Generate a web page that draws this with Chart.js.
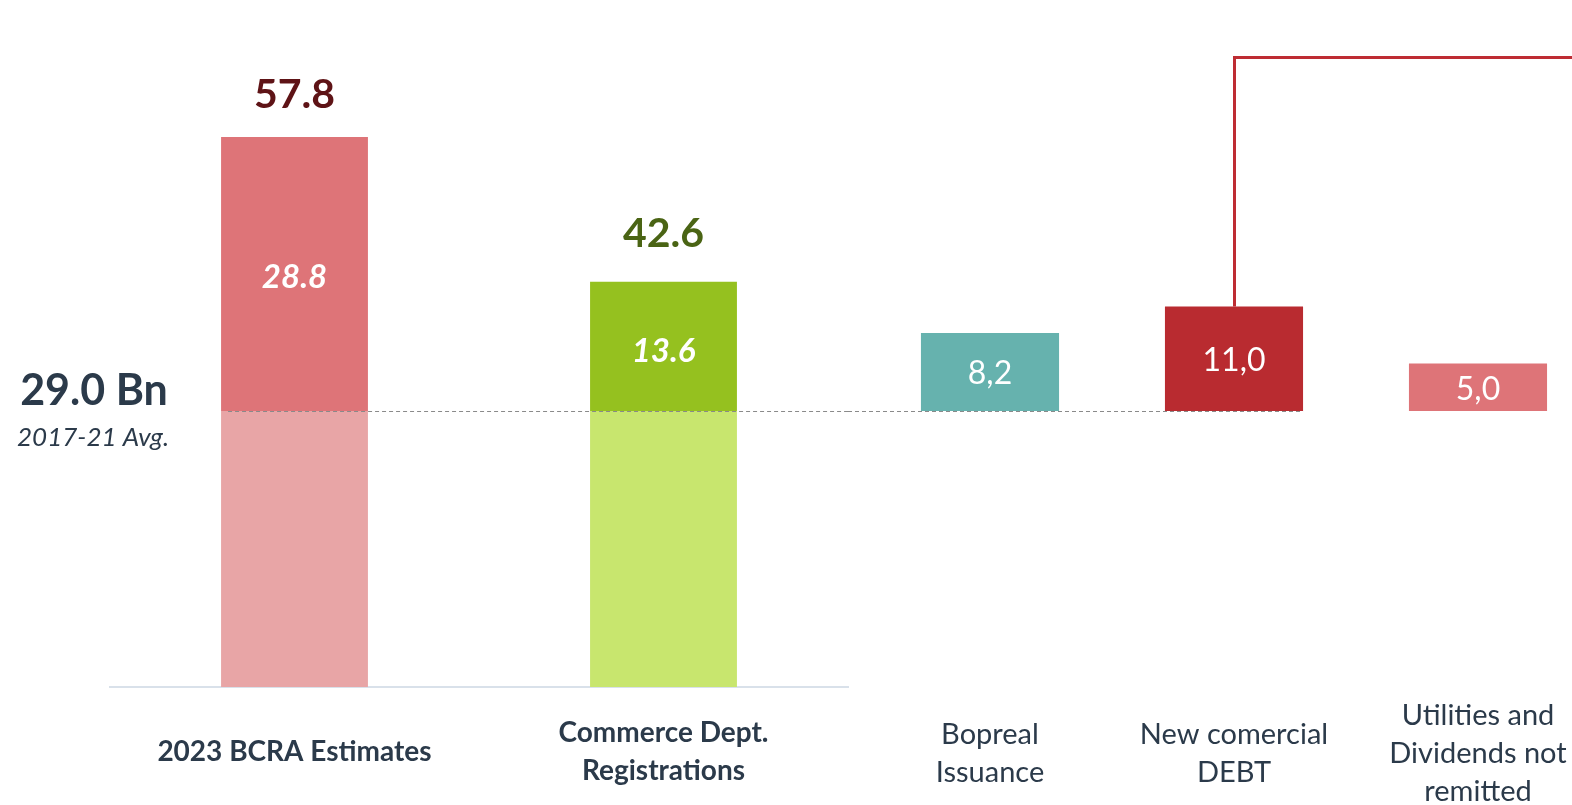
<!DOCTYPE html>
<html>
<head>
<meta charset="utf-8">
<script src="https://cdn.jsdelivr.net/npm/chart.js@4"></script>
<style>
  html, body { margin: 0; padding: 0; background: #ffffff; overflow: hidden; width: 1572px; height: 805px; }
  #wrap { position: relative; width: 1572px; height: 805px; overflow: hidden; }
  canvas { position: absolute; top: 0; }
  #c1 { left: 0; }
  #c2 { left: 848px; }
</style>
</head>
<body>
<div id="wrap">
  <canvas id="c1" width="860" height="805"></canvas>
  <canvas id="c2" width="760" height="805"></canvas>
</div>
<script>
// ---- data ----
const leftCategories = ['2023 BCRA Estimates', ['Commerce Dept.', 'Registrations']];
const avgBase = [29.0, 29.0];            // 2017-21 average portion
const excess = [28.8, 13.6];             // amount above the average
const totals = [57.8, 42.6];             // bar totals
const baseline = 29.0;                   // 2017-21 Avg. (Bn)
const baselineCaption = '2017-21 Avg.';
const rightCategories = [['Bopreal', 'Issuance'], ['New comercial', 'DEBT'], ['Utilities and', 'Dividends not', 'remitted']];
const rightValues = [8.2, 11.0, 5.0];
const bracketLevel = 66.2;               // level of the red connector line
const yMax = 72;

// ---- styles ----
const FONT = 'Lato, "Open Sans", sans-serif';
const DARK = '#2B3A4A';
const leftLight = ['#E8A5A6', '#C8E66E'];
const leftDark = ['#DE7478', '#95C11F'];
const totalColors = ['#5E1316', '#4A6414'];
const rightColors = ['#66B2AE', '#B92B30', '#DE7478'];

function fmtComma(v) { return v.toFixed(1).replace('.', ','); }

function dashed(ctx, x1, x2, y) {
  ctx.save();
  ctx.setLineDash([4, 3]);
  ctx.strokeStyle = '#8A8A8A';
  ctx.lineWidth = 1;
  ctx.beginPath();
  ctx.moveTo(x1, Math.round(y) + 0.5);
  ctx.lineTo(x2, Math.round(y) + 0.5);
  ctx.stroke();
  ctx.restore();
}

const leftPlugin = {
  id: 'leftLabels',
  afterDatasetsDraw(chart) {
    const ctx = chart.ctx;
    const ys = chart.scales.y;
    const yb = ys.getPixelForValue(baseline);
    const m0 = chart.getDatasetMeta(0);
    const m1 = chart.getDatasetMeta(1);
    dashed(ctx, m0.data[0].x - m0.data[0].width / 2 + 7, chart.chartArea.right, yb);
    ctx.save();
    ctx.textAlign = 'center';
    ctx.textBaseline = 'middle';
    m1.data.forEach((bar, i) => {
      ctx.fillStyle = '#ffffff';
      ctx.font = 'italic bold 33px ' + FONT;
      ctx.fillText(excess[i].toFixed(1), bar.x, (bar.y + bar.base) / 2 + 3 + (i === 1 ? 2 : 0));
      ctx.fillStyle = totalColors[i];
      ctx.font = 'bold 41px ' + FONT;
      ctx.textBaseline = 'alphabetic';
      ctx.fillText(totals[i].toFixed(1), bar.x, bar.y - 29 - (i === 1 ? 6 : 0));
      ctx.textBaseline = 'middle';
    });
    ctx.fillStyle = DARK;
    ctx.font = 'bold 43px ' + FONT;
    ctx.fillText(baseline.toFixed(1) + ' Bn', 94, yb - 20);
    ctx.font = 'italic 26px ' + FONT;
    ctx.fillText(baselineCaption, 93, yb + 27);
    ctx.restore();
  }
};

const rightPlugin = {
  id: 'rightLabels',
  afterDatasetsDraw(chart) {
    const ctx = chart.ctx;
    const ys = chart.scales.y;
    const yb = ys.getPixelForValue(baseline);
    const m = chart.getDatasetMeta(0);
    const b1 = m.data[1];
    dashed(ctx, 0, b1.x + b1.width / 2, yb);
    ctx.save();
    ctx.textAlign = 'center';
    ctx.textBaseline = 'middle';
    ctx.fillStyle = '#ffffff';
    ctx.font = '32px ' + FONT;
    m.data.forEach((bar, i) => {
      ctx.fillText(fmtComma(rightValues[i]), bar.x, (bar.y + bar.base) / 2 + 2);
    });
    // red connector
    const yl = Math.round(ys.getPixelForValue(bracketLevel)) + 0.5;
    ctx.strokeStyle = '#BE2C33';
    ctx.lineWidth = 3;
    ctx.beginPath();
    ctx.moveTo(Math.round(b1.x) + 0.5, b1.y);
    ctx.lineTo(Math.round(b1.x) + 0.5, yl);
    ctx.lineTo(chart.width, yl);
    ctx.stroke();
    ctx.restore();
  }
};

new Chart(document.getElementById('c1'), {
  type: 'bar',
  data: {
    labels: leftCategories,
    datasets: [
      { label: '2017-21 Avg.', data: avgBase, backgroundColor: leftLight, stack: 's' },
      { label: 'Above average', data: excess, backgroundColor: leftDark, stack: 's' }
    ]
  },
  options: {
    responsive: false,
    animation: false,
    layout: { padding: { left: 110, right: 12, top: 2, bottom: 0 } },
    plugins: { legend: { display: false }, tooltip: { enabled: false } },
    datasets: { bar: { categoryPercentage: 1, barPercentage: 0.398 } },
    scales: {
      x: {
        stacked: true,
        grid: { display: false, drawTicks: false },
        border: { display: true, color: '#D9E1EA', width: 2 },
        ticks: { color: DARK, font: { family: FONT, size: 28, weight: 'bold', lineHeight: 1.36 }, padding: 46, crossAlign: 'center', maxRotation: 0, autoSkip: false },
        afterFit(s) { s.height = 118; }
      },
      y: { stacked: true, display: false, min: 0, max: yMax }
    }
  },
  plugins: [leftPlugin]
});

new Chart(document.getElementById('c2'), {
  type: 'bar',
  data: {
    labels: rightCategories,
    datasets: [
      { label: 'Sources', data: rightValues.map(v => [baseline, baseline + v]), backgroundColor: rightColors }
    ]
  },
  options: {
    responsive: false,
    animation: false,
    layout: { padding: { left: 20, right: 8, top: 2, bottom: 0 } },
    plugins: { legend: { display: false }, tooltip: { enabled: false } },
    datasets: { bar: { categoryPercentage: 1, barPercentage: 0.566 } },
    scales: {
      x: {
        grid: { display: false, drawTicks: false },
        border: { display: false },
        ticks: { color: DARK, font: { family: FONT, size: 29, weight: 'normal', lineHeight: 1.3 }, padding: 29, crossAlign: 'center', maxRotation: 0, autoSkip: false },
        afterFit(s) { s.height = 118; }
      },
      y: { display: false, min: 0, max: yMax }
    }
  },
  plugins: [rightPlugin]
});
</script>
</body>
</html>
